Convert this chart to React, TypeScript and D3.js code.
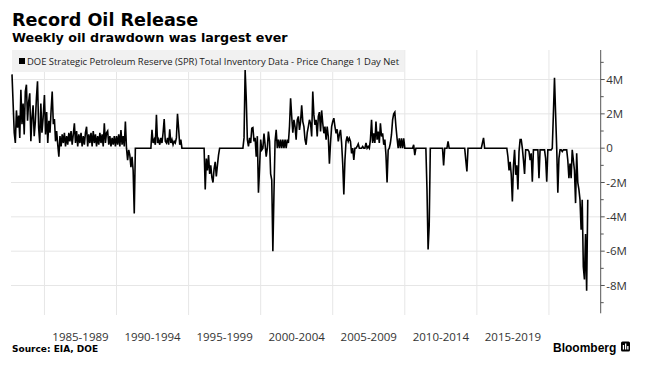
import React from 'react';
import * as d3 from 'd3';

// Four-week samples of the weekly series (millions of barrels), one array per period
const STEP = 1 / 13;
const segStarts = [1982.75, 1985, 1990, 1995, 2000, 2005, 2010, 2015, 2020];

const v1982 = [4.3, 2.6, 0.9, 0.3, 2.2, 1.2, 1.9, 0.6, 3.4, 1.4, 2.6, 0.8, 3.3, 3.7, 1.6, 2.7, 3.2, 0.4, 1.8, 2.5, 0.7, 1.5, 2.9, 3.9, 1.2, 0.3, 2.6, 0.9, 1.7];
const v1985 = [3.1, 0.8, 2.1, 0.3, 1.6, 0.9, 2.2, 3.3, 1.4, 1.7, 0.4, 1.0, 0.2, -0.5, 0.7, 0.1, 0.8, 0.3, 0.9, 0.1, 0.7, 0.2, 0.9, 0.4, 1.0, 0.2, 0.8, 1.45, 0.3, 1.0, 0.1, 0.8, 0.3, 0.9, 0.1, 0.7, 0.2, 0.9, 1.25, 0.1, 0.8, 0.3, 0.9, 0.1, 1.0, 0.3, 0.8, 0.1, 0.7, 0.2, 0.9, 0.3, 0.8, 0.1, 1.45, 0.3, 0.9, 1.0, 0.2, 0.7, 0.1, 0.6, 0.2, 0.7, 0.1];
const v1990 = [0.7, 0.2, 0.8, 0.1, 1.05, 0.2, 0.7, 0.1, 1.55, 0, -0.7, -0.1, -0.4, -1.1, -0.5, -1.3, -3.8, 0, 0, 0, 0, 0, 0, 0, 0, 0, 0, 0, 0, 0, 0, 0, 1.07, 0.3, 0.5, 0.2, 1.94, 0.3, 0.5, 0.2, 0.6, 0.3, 0.9, 1.7, 0.4, 0.3, 0.6, 0.2, 1.1, 0.3, 0.5, 0.2, 0.4, 0.3, 0.6, 2.0, 1.15, 0.2, 0.5, 0, 0, 0, 0, 0, 0];
const v1995 = [0, 0, 0, 0, 0, 0, 0, 0, 0, 0, 0, 0, 0, 0, 0, -2.4, -0.6, -1.3, -0.4, -1.5, -1.0, -1.7, -2.0, -1.2, -0.8, -1.65, -1.0, -0.4, 0, 0, 0, 0, 0, 0, 0, 0, 0, 0, 0, 0, 0, 0, 0, 0, 0, 0, 0, 0, 0, 0, 0.6, 4.56, 2.9, 0.5, 0.1, 0.6, 0.3, 1.16, 1.2, 0.4, 0.6, -0.5, 0.7, -2.6, -1.2];
const v2000 = [0.5, -0.1, 0, 0.85, 0.2, -0.5, 0, 0.97, 0.4, -1.5, -1.85, -6.0, -2.6, 0.4, 1.07, 0, 0.5, 0, 0.5, 0, 0.5, 0, 0.5, 0, 0.5, 0.3, 1.26, 2.9, 1.85, 0.9, 1.65, 1.26, 0.5, 1.65, 1.85, 1.07, 1.55, 2.5, 1.55, 1.26, 0.5, 0.2, 0.9, 1.26, 1.65, 1.45, 0.68, 3.3, 1.94, 1.36, 1.65, 0.68, 1.85, 2.1, 0.97, 2.2, 1.45, 0.87, 1.26, 0.5, 1.26, 0.68, -0.9, 0.3, 1.26];
const v2005 = [1.55, 1.75, 1.26, 0.87, 1.1, 0.4, 0.8, 1.07, 0.3, -0.9, -2.7, -0.7, 0.4, 0.68, 0.4, 0.58, 0.4, -0.3, 0, -0.68, 0, 0, 0.1, 0.25, 0, 0, 0, 0.1, 0, 0, 0.3, 0, 0.1, 0, 0.5, 1.65, 0.3, 0.87, 0.3, 1.55, 0.5, 0.97, 0.3, 1.45, 0.68, 0.87, 0.2, 0.5, -0.4, -2.0, -0.1, 0, 0.3, 0.8, 1.65, 2.0, 2.1, 1.26, 0.58, 0, 0.58, 0, 0.58, 0, 0.58];
const v2010 = [0, 0, 0, 0, 0, 0, 0, 0, 0.2, -0.4, 0, 0, 0, 0, 0, 0, 0, 0, 0, 0, -2.4, -5.9, -4.5, 0, 0, 0, 0, 0, 0, 0, 0, 0, 0, 0, 0, -1.0, 0, 0, 0, 0.4, 0, 0, 0, 0, 0, 0, 0, 0, 0, 0, 0, 0, 0, 0, 0, -0.7, -1.35, 0, 0, 0, 0, 0, 0, 0, 0];
const v2015 = [0, 0, 0, 0, 0, 0.3, 0.6, 0, 0, 0, 0, 0, 0, 0, 0, 0, 0, 0, 0, 0, 0, 0, 0, 0, 0, 0, 0, 0, -0.5, -1.3, -0.8, -1.55, -3.1, -1.0, -0.1, -1.55, -1.0, -2.4, -0.2, 0.5, 0.5, 0, -0.7, -1.5, -0.1, -0.1, -0.1, -0.2, -0.7, -0.3, -1.95, -0.1, -0.1, -0.1, -0.1, -0.1, -1.75, -0.1, -0.1, -0.1, -0.1, -0.1, -0.6, -1.95, -0.1];
const v2020 = [-0.1, -0.1, -0.1, 0, 2.0, 4.1, 2.0, 0, -2.6, -0.6, -0.1, -0.1, -0.2, -0.1, -0.1, -0.1, -0.1, -0.7, -1.75, -0.9, -1.75, -0.1, -0.7, -1.3, -3.2, -0.3, -2.0, -2.4, -3.0, -4.75, -3.0, -6.9, -7.65, -5.0, -8.3, -3.0];

const segments = [v1982, v1985, v1990, v1995, v2000, v2005, v2010, v2015, v2020];

const yTicks = [4, 2, 0, -2, -4, -6, -8];
const yMinorTicks = [5, 3, 1, -1, -3, -5, -7, -9];
const gridYears = [1985, 1990, 1995, 2000, 2005, 2010, 2015, 2020];
const periodStarts = [1985, 1990, 1995, 2000, 2005, 2010, 2015];
const periodLabels = ['1985-1989', '1990-1994', '1995-1999', '2000-2004', '2005-2009', '2010-2014', '2015-2019'];

const TITLE = 'Record Oil Release';
const SUBTITLE = 'Weekly oil drawdown was largest ever';
const LEGEND = 'DOE Strategic Petroleum Reserve (SPR) Total Inventory Data - Price Change 1 Day Net';
const SOURCE = 'Source: EIA, DOE';

export default function App() {
  const W = 653;
  const H = 377;
  const x = d3.scaleLinear().domain([1982.68, 2023.59]).range([11, 600.7]);
  const y = d3.scaleLinear().domain([-9.62, 5.72]).range([313.3, 50]);

  const series: { t: number; v: number }[] = [];
  segments.forEach((vals, k) => {
    vals.forEach((v, i) => series.push({ t: segStarts[k] + i * STEP, v }));
  });
  const line = d3
    .line<{ t: number; v: number }>()
    .x((d) => x(d.t))
    .y((d) => y(d.v));

  const axisX = x.range()[1];
  const tickFont = "'Open Sans', 'DejaVu Sans', sans-serif";
  const boldFont = "'DejaVu Sans', Verdana, sans-serif";

  return (
    <svg
      width={W}
      height={H}
      style={{ position: 'absolute', left: 0, top: 0, background: '#fff' }}
    >
      <rect x={0} y={0} width={W} height={H} fill="#fff" />
      {/* title */}
      <text x={12} y={26} fontFamily={boldFont} fontWeight="bold" fontSize={17.6} fill="#000">
        {TITLE}
      </text>
      <text x={12} y={41.5} fontFamily={boldFont} fontWeight="bold" fontSize={12.7} fill="#000">
        {SUBTITLE}
      </text>

      {/* horizontal grid */}
      {yTicks.map((t) => (
        <line key={'hg' + t} x1={11} x2={axisX} y1={y(t)} y2={y(t)} stroke="#e6e6e6" strokeWidth={1} />
      ))}
      {/* vertical grid */}
      {gridYears.map((yr) => (
        <line key={'vg' + yr} x1={x(yr)} x2={x(yr)} y1={50} y2={315} stroke="#e6e6e6" strokeWidth={1} />
      ))}

      {/* legend band */}
      <rect x={12} y={50} width={392} height={22} fill="#f1f1f1" />
      <rect x={19} y={58} width={6} height={6} fill="#000" />
      <text x={27} y={64.5} fontFamily={tickFont} fontSize={9.2} fill="#222" textLength={372} lengthAdjust="spacingAndGlyphs">
        {LEGEND}
      </text>

      {/* data line */}
      <path d={line(series) || ''} fill="none" stroke="#000" strokeWidth={1.6} strokeLinejoin="miter" />

      {/* y axis */}
      <line x1={axisX} x2={axisX} y1={50} y2={313.3} stroke="#555" strokeWidth={1} />
      {yMinorTicks.map((t) => (
        <line key={'mt' + t} x1={axisX} x2={axisX + 3} y1={y(t)} y2={y(t)} stroke="#555" strokeWidth={1} />
      ))}
      {yTicks.map((t) => (
        <g key={'yt' + t}>
          <line x1={axisX} x2={axisX + 4} y1={y(t)} y2={y(t)} stroke="#555" strokeWidth={1} />
          <text x={axisX + 5.5} y={y(t)} dy="0.35em" fontFamily={tickFont} fontSize={11.5} fill="#333">
            {t === 0 ? '0' : `${t}M`}
          </text>
        </g>
      ))}

      {/* x labels */}
      {periodStarts.map((p, i) => (
        <text
          key={'xl' + p}
          x={x(p + 2.5)}
          y={341}
          textAnchor="middle"
          fontFamily={tickFont}
          fontSize={11.5}
          fill="#333"
        >
          {periodLabels[i]}
        </text>
      ))}

      {/* footer */}
      <text x={12} y={351.5} fontFamily={boldFont} fontWeight="bold" fontSize={9} fill="#000">
        {SOURCE}
      </text>
      <text x={553} y={352} fontFamily="'Liberation Sans', Arial, sans-serif" fontWeight="bold" fontSize={12} fill="#000">
        Bloomberg
      </text>
      <rect x={621} y={341.5} width={9} height={10} rx={1.5} fill="#000" />
      <rect x={622.8} y={345} width={1.3} height={4.5} fill="#fff" />
      <rect x={625} y={343.5} width={1.3} height={6} fill="#fff" />
      <rect x={627.2} y={346} width={1.3} height={3.5} fill="#fff" />
    </svg>
  );
}
